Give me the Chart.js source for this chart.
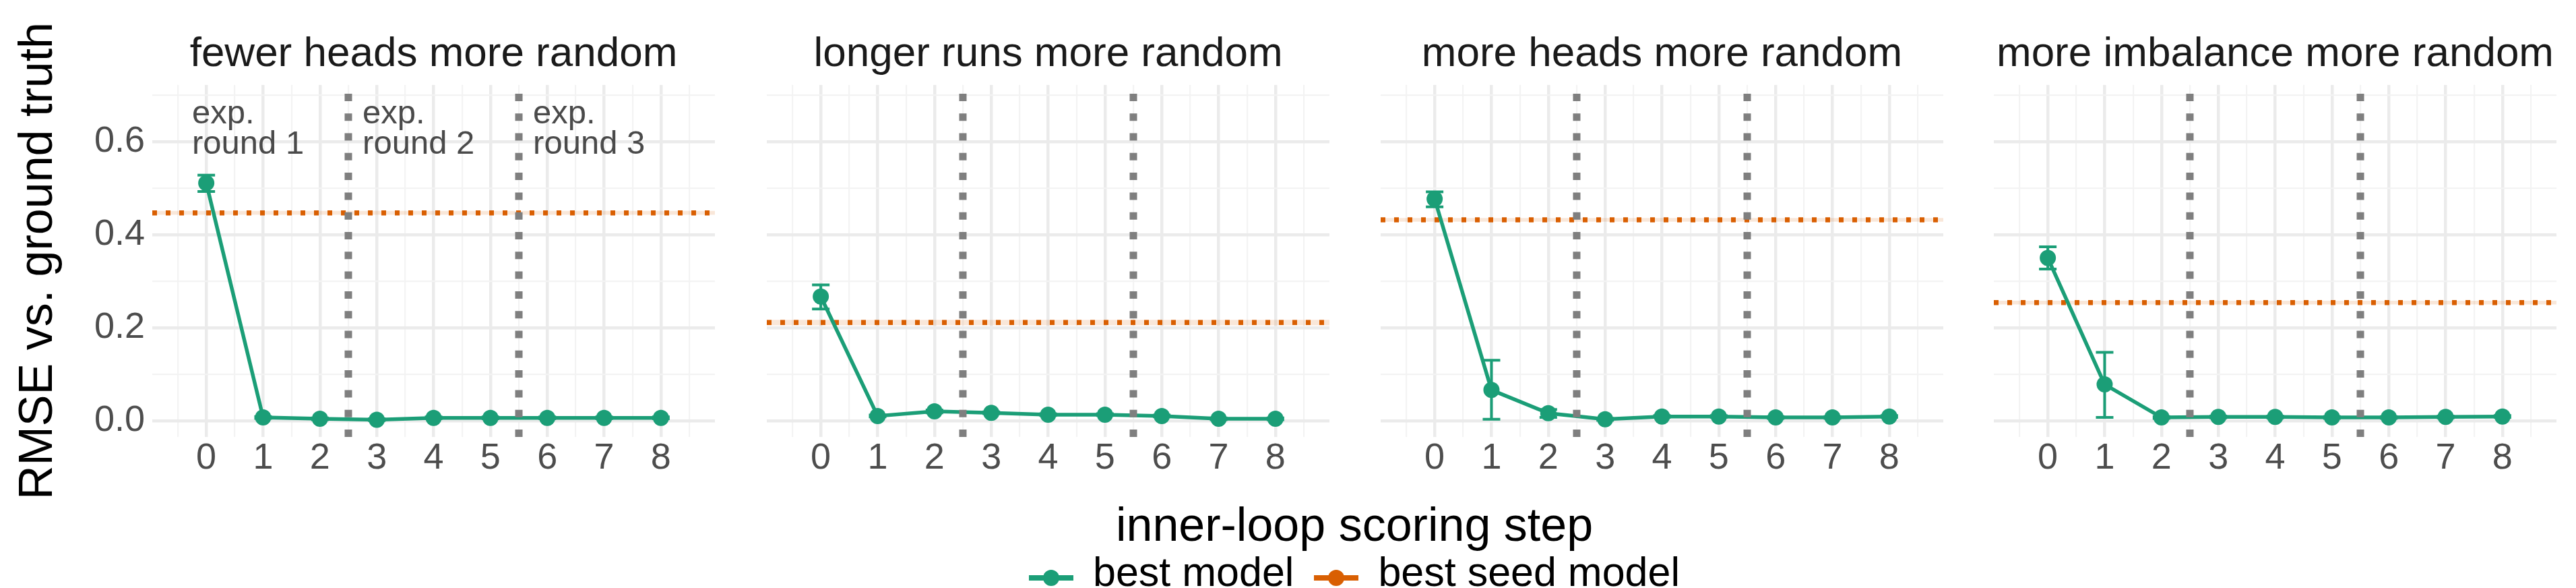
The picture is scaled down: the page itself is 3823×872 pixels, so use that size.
<!DOCTYPE html>
<html>
<head>
<meta charset="utf-8">
<title>RMSE vs. ground truth</title>
<script src="https://cdn.jsdelivr.net/npm/chart.js@4.4.1/dist/chart.umd.min.js"></script>
<style>
    html, body { margin: 0; padding: 0; background: #ffffff; }
    #figure {
        position: relative; width: 3823px; height: 872px; overflow: hidden;
        font-family: "Liberation Sans", Arial, Helvetica, sans-serif;
    }
    #figure canvas { position: absolute; top: 0; }
    .x-title {
        position: absolute; left: 1410px; width: 1200px; top: 743px;
        text-align: center; font-size: 70px; line-height: 70px; color: #000;
    }
    .legend {
        position: absolute; left: 2010px; top: 818px; transform: translateX(-50%);
        display: flex; align-items: flex-start; white-space: nowrap;
        font-size: 61px; line-height: 61px; color: #000;
    }
    .legend-key { position: relative; width: 66px; height: 24px; margin-top: 27px; }
    .legend-key::before {
        content: ""; position: absolute; left: 0; right: 0; top: 8px; height: 8px; background: var(--c);
    }
    .legend-key::after {
        content: ""; position: absolute; left: 21px; top: 0; width: 24px; height: 24px;
        border-radius: 50%; background: var(--c);
    }
    .legend-text { margin-left: 29px; margin-right: 30px; }
    .legend-text:last-child { margin-right: 0; }
</style>
</head>
<body>
<div id="figure">
    <canvas id="panel0" width="1070" height="872" style="left:0px"></canvas>
    <canvas id="panel1" width="855" height="872" style="left:1128px"></canvas>
    <canvas id="panel2" width="855" height="872" style="left:2039px"></canvas>
    <canvas id="panel3" width="855" height="872" style="left:2949px"></canvas>
    <div class="x-title">inner-loop scoring step</div>
    <div class="legend">
        <span class="legend-key" style="--c:#1B9E77"></span><span class="legend-text">best model</span>
        <span class="legend-key" style="--c:#D95F02"></span><span class="legend-text">best seed model</span>
    </div>
</div>
<script>
// ---- data ----
const panelTitles = [
    "fewer heads more random", "longer runs more random",
    "more heads more random", "more imbalance more random"
];
const steps = [0, 1, 2, 3, 4, 5, 6, 7, 8];

// best model RMSE at each inner-loop step
const bestFewerHeads = [0.511, 0.007, 0.004, 0.002, 0.006, 0.006, 0.006, 0.006, 0.006];
const bestLongerRuns = [0.267, 0.010, 0.020, 0.017, 0.013, 0.013, 0.010, 0.004, 0.004];
const bestMoreHeads  = [0.477, 0.066, 0.016, 0.003, 0.009, 0.009, 0.007, 0.007, 0.009];
const bestImbalance  = [0.350, 0.078, 0.007, 0.008, 0.008, 0.007, 0.007, 0.008, 0.009];

// error bar ends
const lowFewerHeads  = [0.493, 0.005, 0.002, 0.000, 0.004, 0.004, 0.004, 0.004, 0.004];
const highFewerHeads = [0.528, 0.009, 0.006, 0.004, 0.008, 0.008, 0.008, 0.008, 0.008];
const lowLongerRuns  = [0.240, 0.008, 0.017, 0.015, 0.011, 0.011, 0.008, 0.002, 0.002];
const highLongerRuns = [0.292, 0.012, 0.023, 0.019, 0.015, 0.015, 0.012, 0.006, 0.006];
const lowMoreHeads   = [0.460, 0.003, 0.007, 0.001, 0.007, 0.007, 0.005, 0.005, 0.007];
const highMoreHeads  = [0.492, 0.130, 0.024, 0.005, 0.011, 0.011, 0.009, 0.009, 0.011];
const lowImbalance   = [0.326, 0.007, 0.005, 0.006, 0.006, 0.005, 0.005, 0.006, 0.007];
const highImbalance  = [0.374, 0.147, 0.009, 0.010, 0.010, 0.009, 0.009, 0.010, 0.011];

// best seed model (horizontal reference) and its narrow band
const seedModel = [0.447, 0.211, 0.432, 0.254];
const seedLow   = [0.443, 0.205, 0.428, 0.250];
const seedHigh  = [0.451, 0.217, 0.436, 0.258];

// experiment round boundaries and labels
const roundBreaks = [2.5, 5.5];
const roundLabels = [["exp.", "round 1"], ["exp.", "round 2"], ["exp.", "round 3"]];
const roundLabelX = [-0.25, 2.75, 5.75];
const roundLabelY = 0.639;

// axes
const xRange = [-0.95, 8.95];
const yRange = [-0.035, 0.722];
const xGrid = [-0.5, 0, 0.5, 1, 1.5, 2, 2.5, 3, 3.5, 4, 4.5, 5, 5.5, 6, 6.5, 7, 7.5, 8, 8.5];
const yGrid = [0, 0.1, 0.2, 0.3, 0.4, 0.5, 0.6, 0.7];
const yMajor = [0, 0.2, 0.4, 0.6];

const bestSeries = [bestFewerHeads, bestLongerRuns, bestMoreHeads, bestImbalance];
const lowSeries  = [lowFewerHeads, lowLongerRuns, lowMoreHeads, lowImbalance];
const highSeries = [highFewerHeads, highLongerRuns, highMoreHeads, highImbalance];

// ---- style ----
const GREEN = "#1B9E77";
const ORANGE = "#D95F02";
const FONT = "'Liberation Sans', Arial, Helvetica, sans-serif";
Chart.defaults.font.family = FONT;

// error bars, drawn just before the best-model line so the points cover them
const errorBarPlugin = {
    id: "errorBars",
    beforeDatasetDraw(chart, args) {
        const ds = chart.data.datasets[args.index];
        if (!ds.errLow) return;
        const xs = chart.scales.x, ys = chart.scales.y;
        const ctx = chart.ctx;
        ctx.save();
        ctx.strokeStyle = ds.borderColor;
        ctx.lineWidth = 4;
        ds.data.forEach((p, k) => {
            const px = xs.getPixelForValue(p.x);
            const lo = ys.getPixelForValue(ds.errLow[k]);
            const hi = ys.getPixelForValue(ds.errHigh[k]);
            ctx.beginPath();
            ctx.moveTo(px, lo); ctx.lineTo(px, hi);
            ctx.moveTo(px - 13, lo); ctx.lineTo(px + 13, lo);
            ctx.moveTo(px - 13, hi); ctx.lineTo(px + 13, hi);
            ctx.stroke();
        });
        ctx.restore();
    }
};

// "exp. round n" notes, only on the first panel
const roundNotesPlugin = {
    id: "roundNotes",
    beforeDatasetsDraw(chart) {
        const xs = chart.scales.x, ys = chart.scales.y;
        const ctx = chart.ctx;
        ctx.save();
        ctx.fillStyle = "#4A4A4A";
        ctx.font = "49px " + FONT;
        ctx.textAlign = "left";
        ctx.textBaseline = "alphabetic";
        roundLabels.forEach((lines, k) => {
            const px = xs.getPixelForValue(roundLabelX[k]);
            const py = ys.getPixelForValue(roundLabelY);
            lines.forEach((line, j) => ctx.fillText(line, px, py + j * 45));
        });
        ctx.restore();
    }
};

function makePanel(i) {
    const first = i === 0;
    const canvas = document.getElementById("panel" + i);
    const pts = steps.map((s, k) => ({ x: s, y: bestSeries[i][k] }));

    const datasets = [];
    // grey dotted round boundaries (top layer)
    roundBreaks.forEach(b => datasets.push({
        label: "round break",
        data: [{ x: b, y: yRange[0] }, { x: b, y: yRange[1] }],
        borderColor: "#7F7F7F", borderWidth: 11, borderDash: [11, 18.3],
        borderCapStyle: "butt", pointRadius: 0
    }));
    // best model
    datasets.push({
        label: "best model",
        data: pts,
        errLow: lowSeries[i], errHigh: highSeries[i],
        borderColor: GREEN, backgroundColor: GREEN, borderWidth: 5.5,
        pointRadius: 12, pointBackgroundColor: GREEN, pointBorderWidth: 0,
        tension: 0
    });
    // best seed model
    datasets.push({
        label: "best seed model",
        data: [{ x: xRange[0], y: seedModel[i] }, { x: xRange[1], y: seedModel[i] }],
        borderColor: ORANGE, borderWidth: 7.5, borderDash: [7, 13],
        borderCapStyle: "butt", pointRadius: 0
    });
    datasets.push({
        label: "seed high",
        data: [{ x: xRange[0], y: seedHigh[i] }, { x: xRange[1], y: seedHigh[i] }],
        borderWidth: 0, pointRadius: 0, fill: false
    });
    datasets.push({
        label: "seed low",
        data: [{ x: xRange[0], y: seedLow[i] }, { x: xRange[1], y: seedLow[i] }],
        borderWidth: 0, pointRadius: 0, fill: "-1",
        backgroundColor: "rgba(217,95,2,0.15)"
    });

    const plugins = [errorBarPlugin];
    if (first) plugins.push(roundNotesPlugin);

    return new Chart(canvas.getContext("2d"), {
        type: "line",
        data: { datasets: datasets },
        plugins: plugins,
        options: {
            responsive: false,
            animation: false,
            devicePixelRatio: 1,
            layout: { autoPadding: false, padding: { left: 0, right: first ? 9 : 10, top: 0, bottom: 0 } },
            scales: {
                x: {
                    type: "linear", min: xRange[0], max: xRange[1],
                    afterBuildTicks: s => { s.ticks = xGrid.map(v => ({ value: v })); },
                    afterFit: s => { s.height = 224; },
                    border: { display: false },
                    grid: {
                        drawTicks: false,
                        color: c => Number.isInteger(c.tick.value) ? "#EBEBEB" : "#F3F3F3",
                        lineWidth: c => Number.isInteger(c.tick.value) ? 4.5 : 2.2
                    },
                    ticks: {
                        autoSkip: false, maxRotation: 0, padding: 0,
                        color: "#4D4D4D", font: { size: 54 },
                        callback: v => Number.isInteger(v) ? String(v) : ""
                    }
                },
                y: {
                    type: "linear", min: yRange[0], max: yRange[1],
                    afterBuildTicks: s => { s.ticks = yGrid.map(v => ({ value: v })); },
                    afterFit: s => { s.width = first ? 226 : 10; },
                    border: { display: false },
                    grid: {
                        drawTicks: false,
                        color: c => yMajor.includes(c.tick.value) ? "#EBEBEB" : "#F3F3F3",
                        lineWidth: c => yMajor.includes(c.tick.value) ? 4.5 : 2.2
                    },
                    ticks: {
                        display: first, padding: 11,
                        color: "#4D4D4D", font: { size: 54 },
                        callback: v => yMajor.includes(v) ? v.toFixed(1) : ""
                    },
                    title: {
                        display: first, text: "RMSE vs. ground truth",
                        color: "#000000", font: { size: 70 },
                        padding: { top: 16, bottom: 0 }
                    }
                }
            },
            plugins: {
                legend: { display: false },
                tooltip: { enabled: false },
                title: {
                    display: true, text: panelTitles[i], fullSize: false,
                    color: "#1A1A1A", font: { size: 62, weight: "normal" },
                    padding: { top: 44, bottom: 7.6 }
                }
            }
        }
    });
}

panelTitles.forEach((t, i) => makePanel(i));
</script>
</body>
</html>
